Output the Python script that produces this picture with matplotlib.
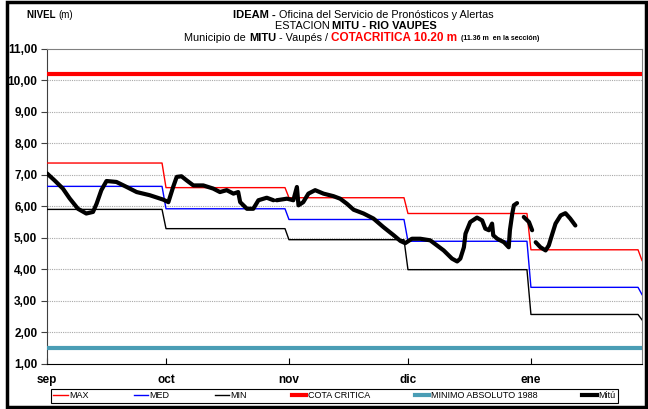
import numpy as np
import matplotlib
matplotlib.use('Agg')
from matplotlib import pyplot as plt
from matplotlib.lines import Line2D
from matplotlib.patches import Rectangle

### Data
# monthly reference levels (m): sep, oct, nov, dic, ene + value where the series closes
month_names = ['sep', 'oct', 'nov', 'dic', 'ene']
month_days = [30, 31, 30, 31, 28]
nivel_max = [7.37, 6.59, 6.27, 5.77, 4.62]
nivel_med = [6.63, 5.92, 5.58, 4.89, 3.43]
nivel_min = [5.90, 5.29, 4.94, 3.99, 2.57]
cierre_max, cierre_med, cierre_min = 4.28, 3.20, 2.40
cota_critica = 10.20
minimo_1988 = 1.50

# daily level at Mitú (days since 1 sep), None = no reading
mitu_dia = [0, 1.9, 4.0, 5.7, 7.8, 9.9, 11.6, 12.5, 13.7, 15.0, 17.5, 20.1, 22.6,
            25.9, 29.3, 30.6, 31.8, 32.7, 33.9, 35.2, 36.9, 39.4, 41.9, 43.6, 45.3,
            47.0, 48.2, 48.7, 50.4, 52.0, 53.3, 55.4, 57.1, 57.5,
            57.9, 60.5, 62.1, 63.0, 63.4, 64.6, 65.9, 67.6, 69.7, 72.2, 73.9, 75.6,
            77.3, 79.8, 82.3, 84.8, 87.4, 89.1, 90.3, 92.0, 94.1, 96.6, 98.3, 100.0,
            102.1, 103.4, 104.2, 105.1, 105.5, 106.7, 108.4, 109.7, 110.5, 111.4,
            112.2, 112.5, 113.5, 115.2, 116.4, 116.7, 117.3, 117.7, 118.5, 119.3,
            120.2, 121.5, 122.3, 122.7,
            123.2, 124.4, 125.7, 126.5, 127.4, 128.2, 129.5, 130.7, 131.9, 133.2]
mitu_nivel = [7.04, 6.82, 6.56, 6.25, 5.92, 5.77, 5.82, 6.08, 6.51, 6.80, 6.77, 6.61, 6.45,
              6.35, 6.21, 6.13, 6.61, 6.93, 6.95, 6.82, 6.66, 6.66, 6.56, 6.45, 6.51,
              6.40, 6.45, 6.13, 5.92, 5.92, 6.19, 6.27, 6.19, None,
              6.19, 6.24, 6.19, 6.61, 6.03, 6.13, 6.40, 6.51, 6.40, 6.32, 6.24, 6.08,
              5.89, 5.77, 5.61, 5.34, 5.08, 4.90, 4.83, 4.97, 4.97, 4.92, 4.76, 4.60,
              4.34, 4.25, 4.34, 4.70, 5.13, 5.50, 5.64, 5.55, 5.29, 5.24,
              5.45, 5.08, 4.97, 4.86, 4.70, 5.24, 5.77, 6.03, 6.10, None,
              5.66, 5.50, 5.24, None,
              4.86, 4.70, 4.60, 4.76, 5.13, 5.45, 5.71, 5.78, 5.61, 5.39]


def monthly_series(values, cierre):
    """Daily step series from one value per month."""
    y = np.repeat(np.array(values, dtype=float), month_days)
    y = np.append(y, cierre)
    return np.arange(len(y)), y


def centered_pieces(fig, xc, y, pieces):
    """Write a line of text made of differently styled pieces, centered on xc."""
    renderer = fig.canvas.get_renderer()
    W = fig.bbox.width
    texts = [fig.text(0, y, s, va='center', ha='left', **kw) for s, kw in pieces]
    widths = [t.get_window_extent(renderer).width for t in texts]
    x = xc * W - sum(widths) / 2
    for t, w in zip(texts, widths):
        t.set_x(x / W)
        x += w


plt.rcParams['font.family'] = ['Liberation Sans Narrow', 'Liberation Sans', 'DejaVu Sans']
W, H = 648, 409
fig = plt.figure(figsize=(W / 100, H / 100), dpi=100)
ax = fig.add_axes([47 / W, 1 - 364 / H, (642 - 47) / W, (364 - 48.5) / H])

### Reference levels
x, y = monthly_series(nivel_max, cierre_max)
ax.plot(x, y, color='#FF0000', lw=1.0, label='MAX', zorder=3)
x, y = monthly_series(nivel_med, cierre_med)
ax.plot(x, y, color='#0000FF', lw=1.0, label='MED', zorder=3)
x, y = monthly_series(nivel_min, cierre_min)
ax.plot(x, y, color='#000000', lw=1.0, label='MIN', zorder=3)
ax.axhline(cota_critica, color='#FF0000', lw=3.0, label='COTA CRITICA', zorder=3)
ax.axhline(minimo_1988, color='#4A9DB5', lw=3.0, label='MINIMO ABSOLUTO 1988', zorder=3)

### Observed level
niv = np.array([np.nan if v is None else v for v in mitu_nivel])
ax.plot(mitu_dia, niv, color='black', lw=3.0, label='Mitú', zorder=4,
        solid_capstyle='round', solid_joinstyle='round')

### Axes
ax.set_xlim(0, 150)
ax.set_ylim(1, 11)
starts = np.cumsum([0] + month_days[:-1])
ax.set_xticks(starts)
ax.set_xticklabels(month_names, fontweight='bold', fontsize=8.5, family='Liberation Sans')
ax.tick_params(axis='x', direction='in', length=4, pad=7, color='black')
yt = np.arange(1, 12)
ax.set_yticks(yt)
ax.set_yticklabels(['{:.2f}'.format(v).replace('.', ',') for v in yt],
                   fontweight='bold', fontsize=8.5, family='Liberation Sans')
ax.tick_params(axis='y', direction='out', length=4, pad=3, color='#404040')
for v in yt[1:-1]:
    ax.axhline(v, color='#A8A8A8', lw=0.8, ls=(0, (1, 1)), zorder=1)
for s in ['top', 'right']:
    ax.spines[s].set_color('#808080')
ax.spines['left'].set_color('#404040')
ax.spines['bottom'].set_color('black')

### Legend
handles = [Line2D([], [], color='#FF0000', lw=1.0),
           Line2D([], [], color='#0000FF', lw=1.0),
           Line2D([], [], color='black', lw=1.0),
           Line2D([], [], color='#FF0000', lw=3.0),
           Line2D([], [], color='#4A9DB5', lw=3.0),
           Line2D([], [], color='black', lw=3.0)]
labels = ['MAX', 'MED', 'MIN', 'COTA CRITICA', 'MINIMO ABSOLUTO 1988', 'Mitú']
leg = fig.legend(handles, labels, loc='center', ncol=6, mode='expand',
                 bbox_to_anchor=(50.7 / W, 1 - 405 / H, (618 - 50.7) / W, (405 - 386.7) / H),
                 fontsize=6.5, handlelength=1.6, handletextpad=0.15, borderaxespad=0,
                 fancybox=False, framealpha=1, edgecolor='black', borderpad=0.3)
leg.get_frame().set_linewidth(0.8)

### Titles
centered_pieces(fig, 363 / W, 1 - 14.5 / H, [
    ('IDEAM - ', dict(fontsize=8, fontweight='bold')),
    ('Oficina del Servicio de Pronósticos y Alertas', dict(fontsize=7.8))])
centered_pieces(fig, 356 / W, 1 - 26 / H, [
    ('ESTACION ', dict(fontsize=7.8)),
    ('MITU - RIO VAUPES', dict(fontsize=8, fontweight='bold'))])
centered_pieces(fig, 362 / W, 1 - 38 / H, [
    ('Municipio de ', dict(fontsize=7.8)),
    ('MITU', dict(fontsize=8, fontweight='bold')),
    (' - Vaupés / ', dict(fontsize=7.8)),
    ('COTACRITICA 10.20 m', dict(fontsize=8.5, fontweight='bold', color='#FF0000')),
    ('  (11.36 m  en la sección)', dict(fontsize=5, fontweight='bold'))])
centered_pieces(fig, 50 / W, 1 - 15 / H, [
    ('NIVEL ', dict(fontsize=7, fontweight='bold')),
    ('(m)', dict(fontsize=7))])

# outer frame
fig.patches.append(Rectangle((7 / W, 2 / H), (646 - 7) / W, (407 - 2) / H,
                             transform=fig.transFigure, fill=False,
                             lw=2.5, ec='black'))

fig.savefig('out.png', dpi=100)
